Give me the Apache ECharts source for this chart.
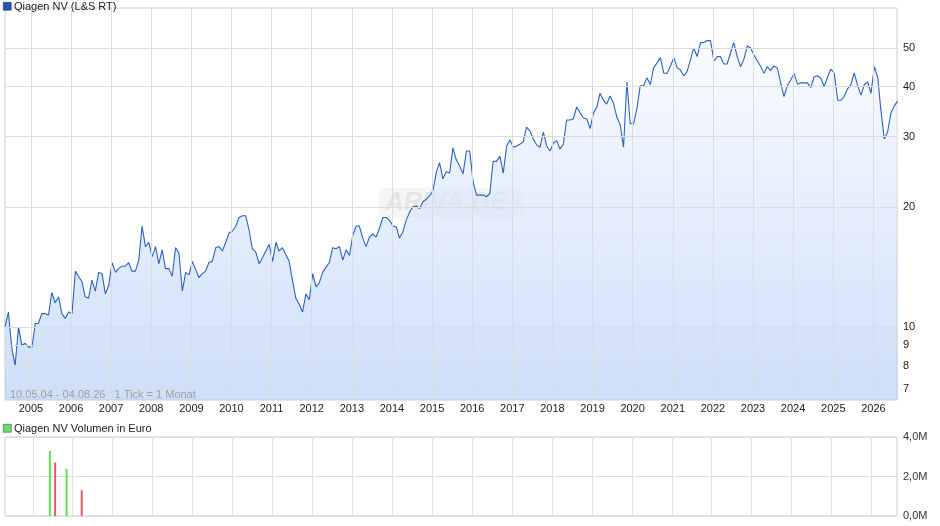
<!DOCTYPE html>
<html><head><meta charset="utf-8">
<script src="https://cdn.jsdelivr.net/npm/echarts@6/dist/echarts.min.js"></script>
<style>html,body{margin:0;padding:0;background:#fff}#c{width:940px;height:526px}</style>
</head><body><div id="c"></div>
<script>
const startMonth = [2004, 5];
const prices = [
10,10.9,8.9,8.0,10.0,9.0,9.1,8.9,
8.9,10.2,10.2,10.8,10.8,10.7,12.2,11.5,11.9,10.8,10.5,10.9,
10.8,13.8,13.4,13.0,11.9,11.8,13.1,12.3,13.7,13.6,12.1,12.7,
14.5,13.7,14.0,14.2,14.2,14.5,13.8,13.8,14.7,17.9,15.9,16.3,
15.0,15.9,14.4,15.6,14.0,14.0,13.4,15.8,15.3,12.3,13.7,13.5,
14.6,13.9,13.3,13.6,13.8,14.5,14.6,15.8,15.9,15.5,16.3,17.2,
17.4,17.9,18.8,19.0,19.0,17.5,15.7,15.4,14.4,14.9,15.5,16.1,
14.6,16.3,15.5,15.8,15.2,14.6,13.1,11.8,11.4,10.9,12.1,11.7,
13.6,12.6,12.9,13.7,14.1,14.5,15.8,15.7,15.9,14.7,15.6,15.1,
17.0,17.9,17.9,16.7,15.9,16.8,17.1,16.8,17.7,18.8,18.8,18.5,
17.9,17.8,16.7,17.3,18.5,19.4,20.0,20.1,19.8,20.6,20.9,21.3,
22.0,24.5,25.8,23.5,24.5,24.3,28.1,26.2,25.3,24.2,27.6,27.6,
23.1,21.4,21.4,21.4,21.2,21.6,26.0,26.0,26.8,24.3,28.4,29.4,
28.2,28.4,28.7,29.1,31.7,31.0,29.6,28.6,28.2,30.8,28.4,27.6,
28.9,29.3,27.9,28.7,33.0,33.0,33.2,35.6,34.4,33.4,33.2,31.4,
34.4,35.6,38.5,37.0,36.2,37.9,36.4,33.6,32.1,28.2,41.1,32.3,
32.3,35.4,40.2,40.3,42.1,40.5,44.6,45.9,47.3,43.3,43.2,45.1,
47.3,44.6,44.1,42.6,43.6,46.7,50.0,47.6,51.6,51.6,52.2,52.2,
46.4,47.6,47.6,45.6,45.6,48.6,51.6,47.6,44.9,46.9,50.6,50.0,
48.0,46.4,45.1,43.2,44.9,43.9,45.1,44.6,40.9,37.8,40.3,41.6,
43.2,40.6,40.9,40.9,40.9,39.8,42.3,42.6,42.0,40.0,42.3,44.3,
43.2,37.0,37.0,37.8,39.5,40.5,43.3,40.3,38.1,40.5,41.1,38.5,
44.9,42.1,35.0,29.6,30.8,34.4,35.8,36.8
];
const priceTicks = [7,8,9,10,20,30,40,50];
const years = [];
for (let y = 2005; y <= 2026; y++) years.push(y);
const volUpDates = ['2005-06-15','2005-11-15'];
const volUpValues = [3.3e6, 2.4e6];
const volDownDates = ['2005-07-15','2006-03-15'];
const volDownValues = [2.7e6, 1.3e6];

const priceData = prices.map((p, i) => {
  const y = startMonth[0] + Math.floor((startMonth[1] - 1 + i) / 12);
  const m = (startMonth[1] - 1 + i) % 12 + 1;
  return [y + '-' + String(m).padStart(2,'0') + '-10', p];
});
const xMin = '2004-05-10', xMax = '2026-08-04';
const font = 'Liberation Sans, Arial, sans-serif';
const chart = echarts.init(document.getElementById('c'));
chart.setOption({
  animation: false,
  grid: [
    {left: 5, right: 43, top: 8, height: 392, show: true, borderColor: '#ccc', borderWidth: 1},
    {left: 5, right: 43, top: 437, height: 79, show: true, borderColor: '#ccc', borderWidth: 1}
  ],
  xAxis: [
    {type: 'time', gridIndex: 0, min: xMin, max: xMax, axisLabel: {show: false}, axisTick: {show: false}, axisLine: {show: false}, splitLine: {show: false}},
    {type: 'time', gridIndex: 1, min: xMin, max: xMax, axisLabel: {show: false}, axisTick: {show: false}, axisLine: {show: false}, splitLine: {show: false}}
  ],
  yAxis: [
    {type: 'log', gridIndex: 0, position: 'right', min: 6.56, max: 63, axisLabel: {show: false}, axisTick: {show: false}, axisLine: {show: false}, splitLine: {show: false}},
    {type: 'value', gridIndex: 1, position: 'right', min: 0, max: 4e6, interval: 2e6,
     axisLabel: {color: '#333', fontFamily: font, fontSize: 11, margin: 6, formatter: v => (v/1e6).toFixed(1).replace('.', ',') + 'M'},
     axisTick: {show: false}, axisLine: {show: false}, splitLine: {lineStyle: {color: '#ddd'}}}
  ],
  graphic: [
    {type: 'rect', left: 3, top: 2, shape: {width: 8, height: 8}, style: {fill: '#2453b5', stroke: '#333', lineWidth: 0.5}},
    {type: 'text', left: 14, top: 1, style: {text: 'Qiagen NV (L&S RT)', font: '11px ' + font, fill: '#222'}},
    {type: 'rect', left: 3, top: 424, shape: {width: 8, height: 8}, style: {fill: '#66dd66', stroke: '#333', lineWidth: 0.5}},
    {type: 'text', left: 14, top: 423, style: {text: 'Qiagen NV Volumen in Euro', font: '11px ' + font, fill: '#222'}},
    {type: 'text', left: 10, top: 389, z: 10, style: {text: '10.05.04 - 04.08.26   1 Tick = 1 Monat', font: '11px ' + font, fill: '#a0a0a0'}},
    {type: 'rect', left: 378, top: 188, z: 0, shape: {width: 146, height: 30, r: 8}, style: {fill: 'rgba(215,215,215,0.25)'}},
    {type: 'text', left: 385, top: 190, z: 0, style: {text: 'ARIVA.DE', font: 'italic bold 26px ' + font, fill: 'rgba(210,210,210,0.45)'}}
  ],
  series: [
    {type: 'line', xAxisIndex: 0, yAxisIndex: 0, data: priceData, symbol: 'none',
     lineStyle: {color: '#2b62c8', width: 1.1},
     areaStyle: {origin: 'start', color: new echarts.graphic.LinearGradient(0,0,0,1,[{offset:0,color:'#f7faff'},{offset:1,color:'#b8d0f6'}])},
     markLine: {silent: true, symbol: 'none', animation: false,
       data: priceTicks.map(t => ({yAxis: t, label: {formatter: String(t)}}))
         .concat(years.map(y => ({xAxis: y + '-01-01', label: {show: false}}))),
       lineStyle: {color: '#dcdcdc', type: 'solid', width: 1},
       label: {position: 'end', color: '#222', fontFamily: font, fontSize: 11, distance: 6}
     }},
    {type: 'line', xAxisIndex: 0, yAxisIndex: 0, data: [], markLine: {silent: true, symbol: 'none', animation: false,
       data: years.map(y => ({xAxis: y + '-01-01', label: {formatter: String(y)}})),
       lineStyle: {color: 'rgba(0,0,0,0)'},
       label: {position: 'start', color: '#222', fontFamily: font, fontSize: 11, distance: 3}}},
    {type: 'line', xAxisIndex: 1, yAxisIndex: 1, data: [], markLine: {silent: true, symbol: 'none', animation: false,
       data: years.map(y => ({xAxis: y + '-01-01'})),
       lineStyle: {color: '#e2e2e2', type: 'solid', width: 1}, label: {show: false}}},
    {type: 'bar', xAxisIndex: 1, yAxisIndex: 1, barWidth: 2, barGap: '0%', data: volUpDates.map((d,i)=>[d, volUpValues[i]]), itemStyle: {color: '#66dd55'}},
    {type: 'bar', xAxisIndex: 1, yAxisIndex: 1, barWidth: 2, barGap: '0%', data: volDownDates.map((d,i)=>[d, volDownValues[i]]), itemStyle: {color: '#e06060'}}
  ]
});
</script></body></html>
